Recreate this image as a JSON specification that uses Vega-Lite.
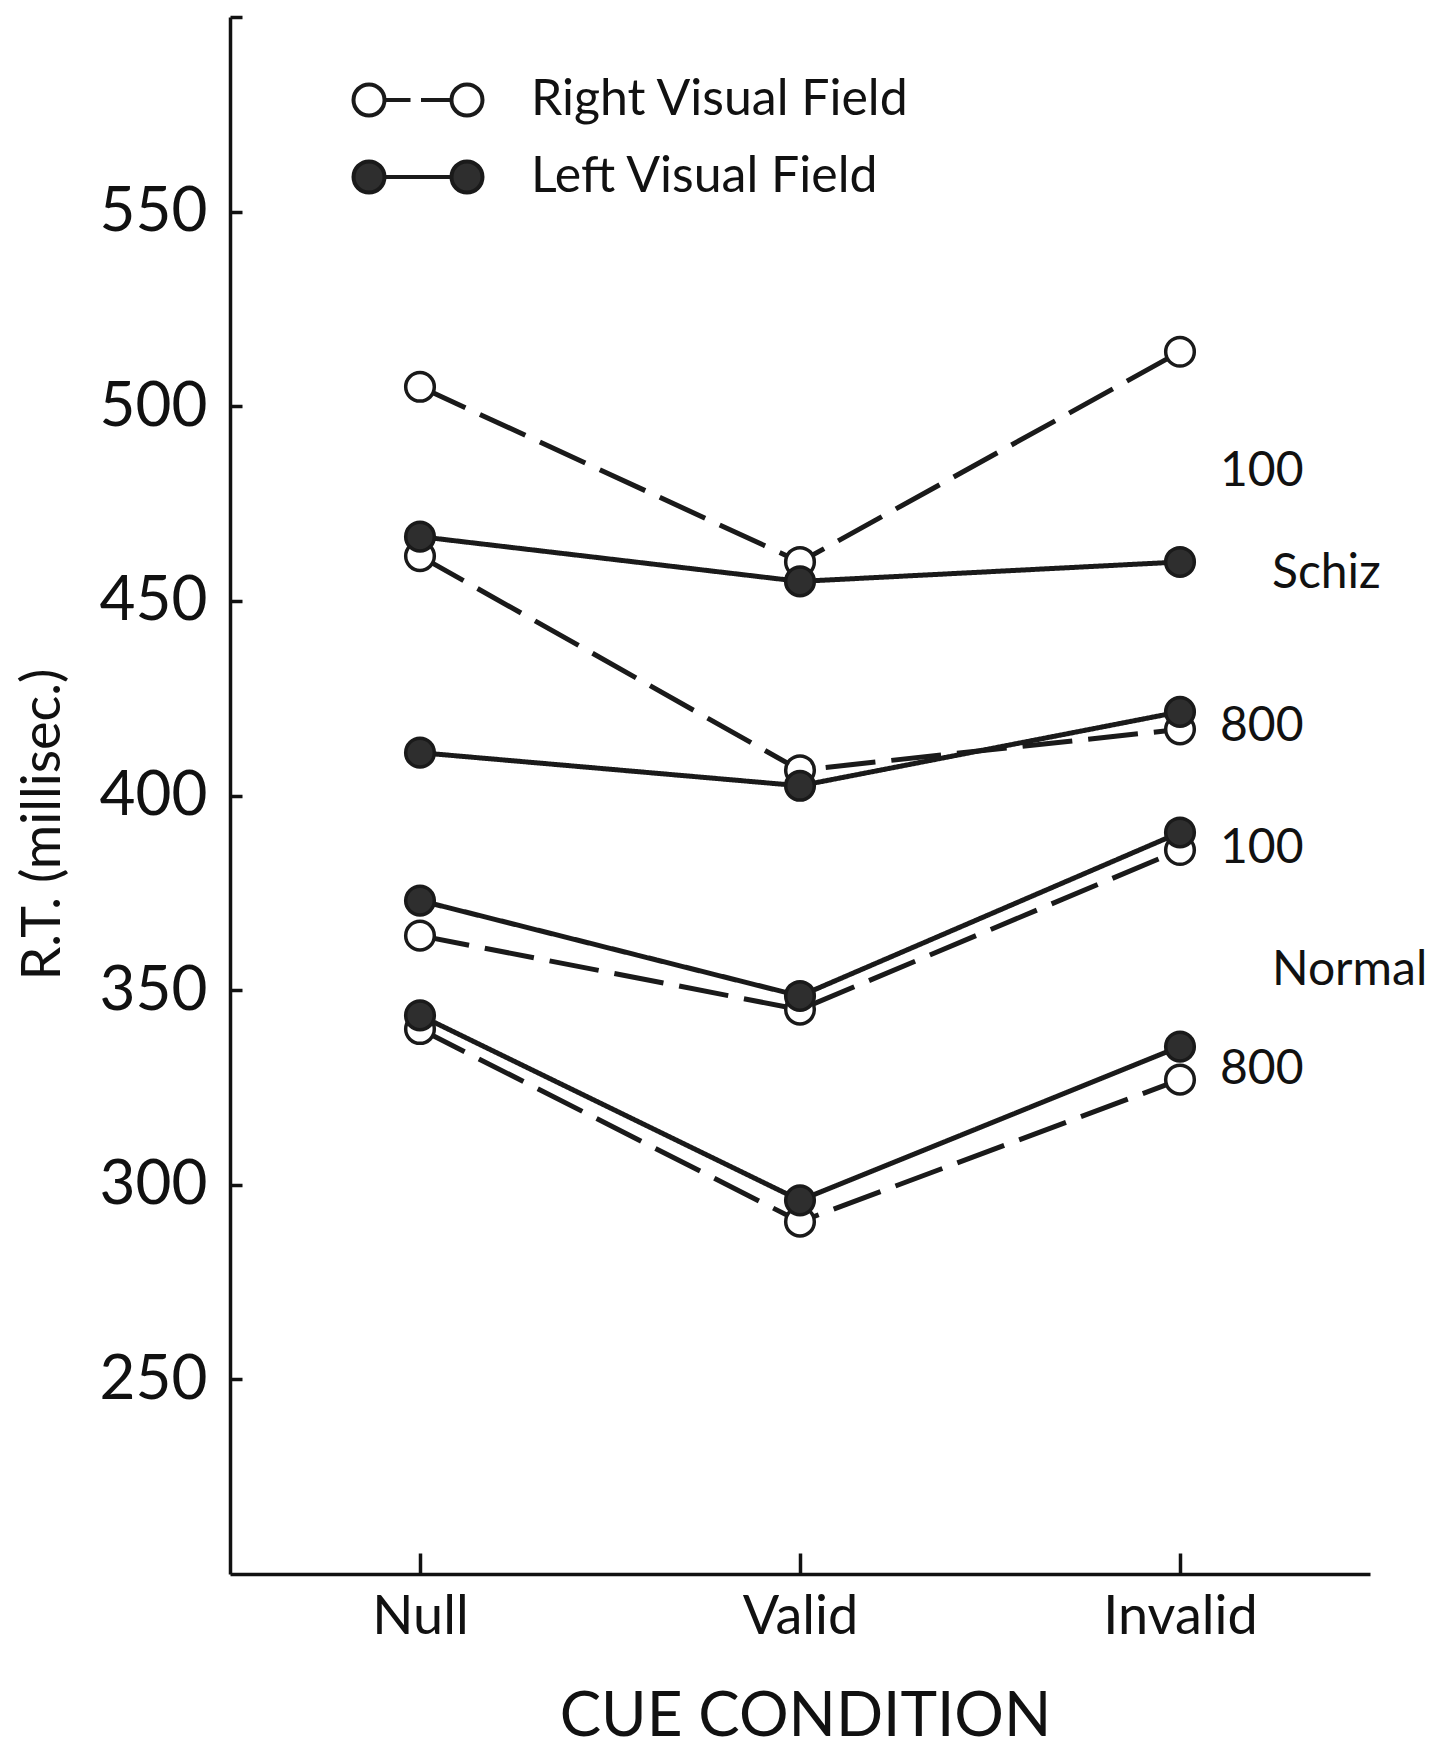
{
  "$schema": "https://vega.github.io/schema/vega-lite/v6.json",
  "width": 1140,
  "height": 1557,
  "autosize": {"type": "none"},
  "padding": {"left": 230, "top": 17, "right": 76, "bottom": 173},
  "background": "white",
  "config": {
    "view": {"stroke": null},
    "font": "Lato",
    "axis": {"grid": false, "domainColor": "#111", "tickColor": "#111", "labelColor": "#111", "titleColor": "#111", "labelFont": "Lato", "titleFont": "Lato", "titleFontWeight": "normal", "domainWidth": 3.5, "tickWidth": 3.5},
    "legend": {"orient": "none", "legendX": 156, "legendY": 51, "title": null, "padding": 0, "symbolSize": 3600, "rowPadding": 20, "labelFont": "Lato", "labelFontSize": 50, "labelColor": "#111", "labelOffset": 81, "labelLimit": 0, "symbolStrokeWidth": 4, "symbolOpacity": 1}
  },
  "datasets": {
    "rt": [
      {"group": "Schiz", "soa": "100", "field": "Right Visual Field", "cue": "Null", "rt": 505},
      {"group": "Schiz", "soa": "100", "field": "Right Visual Field", "cue": "Valid", "rt": 460},
      {"group": "Schiz", "soa": "100", "field": "Right Visual Field", "cue": "Invalid", "rt": 514},
      {"group": "Schiz", "soa": "800", "field": "Right Visual Field", "cue": "Null", "rt": 461.5},
      {"group": "Schiz", "soa": "800", "field": "Right Visual Field", "cue": "Valid", "rt": 406.5},
      {"group": "Schiz", "soa": "800", "field": "Right Visual Field", "cue": "Invalid", "rt": 417},
      {"group": "Normal", "soa": "100", "field": "Right Visual Field", "cue": "Null", "rt": 364},
      {"group": "Normal", "soa": "100", "field": "Right Visual Field", "cue": "Valid", "rt": 345},
      {"group": "Normal", "soa": "100", "field": "Right Visual Field", "cue": "Invalid", "rt": 386},
      {"group": "Normal", "soa": "800", "field": "Right Visual Field", "cue": "Null", "rt": 340},
      {"group": "Normal", "soa": "800", "field": "Right Visual Field", "cue": "Valid", "rt": 290.5},
      {"group": "Normal", "soa": "800", "field": "Right Visual Field", "cue": "Invalid", "rt": 327},
      {"group": "Schiz", "soa": "100", "field": "Left Visual Field", "cue": "Null", "rt": 466.5},
      {"group": "Schiz", "soa": "100", "field": "Left Visual Field", "cue": "Valid", "rt": 455},
      {"group": "Schiz", "soa": "100", "field": "Left Visual Field", "cue": "Invalid", "rt": 460},
      {"group": "Schiz", "soa": "800", "field": "Left Visual Field", "cue": "Null", "rt": 411},
      {"group": "Schiz", "soa": "800", "field": "Left Visual Field", "cue": "Valid", "rt": 402.5},
      {"group": "Schiz", "soa": "800", "field": "Left Visual Field", "cue": "Invalid", "rt": 421.5},
      {"group": "Normal", "soa": "100", "field": "Left Visual Field", "cue": "Null", "rt": 373},
      {"group": "Normal", "soa": "100", "field": "Left Visual Field", "cue": "Valid", "rt": 348.5},
      {"group": "Normal", "soa": "100", "field": "Left Visual Field", "cue": "Invalid", "rt": 390.5},
      {"group": "Normal", "soa": "800", "field": "Left Visual Field", "cue": "Null", "rt": 343.5},
      {"group": "Normal", "soa": "800", "field": "Left Visual Field", "cue": "Valid", "rt": 296},
      {"group": "Normal", "soa": "800", "field": "Left Visual Field", "cue": "Invalid", "rt": 335.5}
    ],
    "notes": [
      {"label": "100", "kind": "soa", "cue": "Invalid", "rt": 483.2},
      {"label": "Schiz", "kind": "group", "cue": "Invalid", "rt": 457},
      {"label": "800", "kind": "soa", "cue": "Invalid", "rt": 417.5},
      {"label": "100", "kind": "soa", "cue": "Invalid", "rt": 386.3},
      {"label": "Normal", "kind": "group", "cue": "Invalid", "rt": 355},
      {"label": "800", "kind": "soa", "cue": "Invalid", "rt": 329.5}
    ]
  },
  "encoding": {
    "x": {
      "field": "cue", "type": "nominal",
      "scale": {"type": "point", "domain": ["Null", "Valid", "Invalid"], "padding": 0.5},
      "axis": {"labelAngle": 0, "tickSize": -21, "labelFontSize": 54, "labelPadding": 37, "title": "CUE CONDITION", "titleFontSize": 62, "titleX": 575, "titleY": 161, "titleBaseline": "alphabetic", "titleAlign": "center"}
    },
    "y": {
      "field": "rt", "type": "quantitative",
      "scale": {"domain": [200, 600], "nice": false, "zero": false},
      "axis": {"values": [250, 300, 350, 400, 450, 500, 550, 600], "labelExpr": "datum.value == 600 ? '' : datum.label", "tickSize": -12, "labelFontSize": 62, "labelPadding": 35, "title": "R.T. (millisec.)", "titleFontSize": 54, "titleAngle": -90, "titleX": -187, "titleY": 807, "titleBaseline": "middle", "titleAlign": "center"}
    }
  },
  "layer": [
    {
      "data": {"name": "rt"},
      "mark": {"type": "line", "strokeWidth": 5, "color": "#1a1a1a", "strokeCap": "butt"},
      "encoding": {
        "detail": [{"field": "group"}, {"field": "soa"}],
        "strokeDash": {
          "field": "field", "type": "nominal",
          "scale": {"domain": ["Left Visual Field", "Right Visual Field"], "range": [[1, 0], [50, 16]]},
          "legend": null
        }
      }
    },
    {
      "data": {"name": "rt"},
      "mark": {"type": "point", "shape": "circle", "size": 820, "strokeWidth": 3.5, "stroke": "#1a1a1a", "filled": true, "opacity": 1},
      "encoding": {
        "color": {
          "field": "field", "type": "nominal",
          "scale": {"domain": ["Left Visual Field", "Right Visual Field"], "range": ["#2e2e2e", "white"]},
          "legend": null
        }
      }
    },
    {
      "data": {"name": "rt"},
      "mark": {"type": "point", "size": 3600, "strokeWidth": 4, "filled": true, "opacity": 0},
      "encoding": {
        "shape": {
          "field": "field", "type": "nominal",
          "scale": {"domain": ["Right Visual Field", "Left Visual Field"], "range": [
            "M -1.116,0 L -0.25,0 M 0.1,0 L 1.116,0 M -1.116,0 A 0.517,0.517 0 1 0 -2.15,0 A 0.517,0.517 0 1 0 -1.116,0 Z M 2.15,0 A 0.517,0.517 0 1 0 1.116,0 A 0.517,0.517 0 1 0 2.15,0 Z",
            "M -1.116,0 L 1.116,0 M -1.116,0 A 0.517,0.517 0 1 0 -2.15,0 A 0.517,0.517 0 1 0 -1.116,0 Z M 2.15,0 A 0.517,0.517 0 1 0 1.116,0 A 0.517,0.517 0 1 0 2.15,0 Z"
          ]}
        },
        "fill": {
          "field": "field", "type": "nominal",
          "scale": {"domain": ["Right Visual Field", "Left Visual Field"], "range": ["white", "#2e2e2e"]}
        },
        "stroke": {
          "field": "field", "type": "nominal",
          "scale": {"domain": ["Right Visual Field", "Left Visual Field"], "range": ["#1a1a1a", "#1a1a1a"]}
        }
      }
    },
    {
      "data": {"name": "notes"},
      "transform": [{"filter": "datum.kind === 'soa'"}],
      "mark": {"type": "text", "align": "left", "baseline": "middle", "dx": 40, "font": "Lato", "fontSize": 48, "color": "#111"},
      "encoding": {"text": {"field": "label"}}
    },
    {
      "data": {"name": "notes"},
      "transform": [{"filter": "datum.kind === 'group'"}],
      "mark": {"type": "text", "align": "left", "baseline": "middle", "dx": 92, "font": "Lato", "fontSize": 48, "color": "#111"},
      "encoding": {"text": {"field": "label"}}
    }
  ]
}
